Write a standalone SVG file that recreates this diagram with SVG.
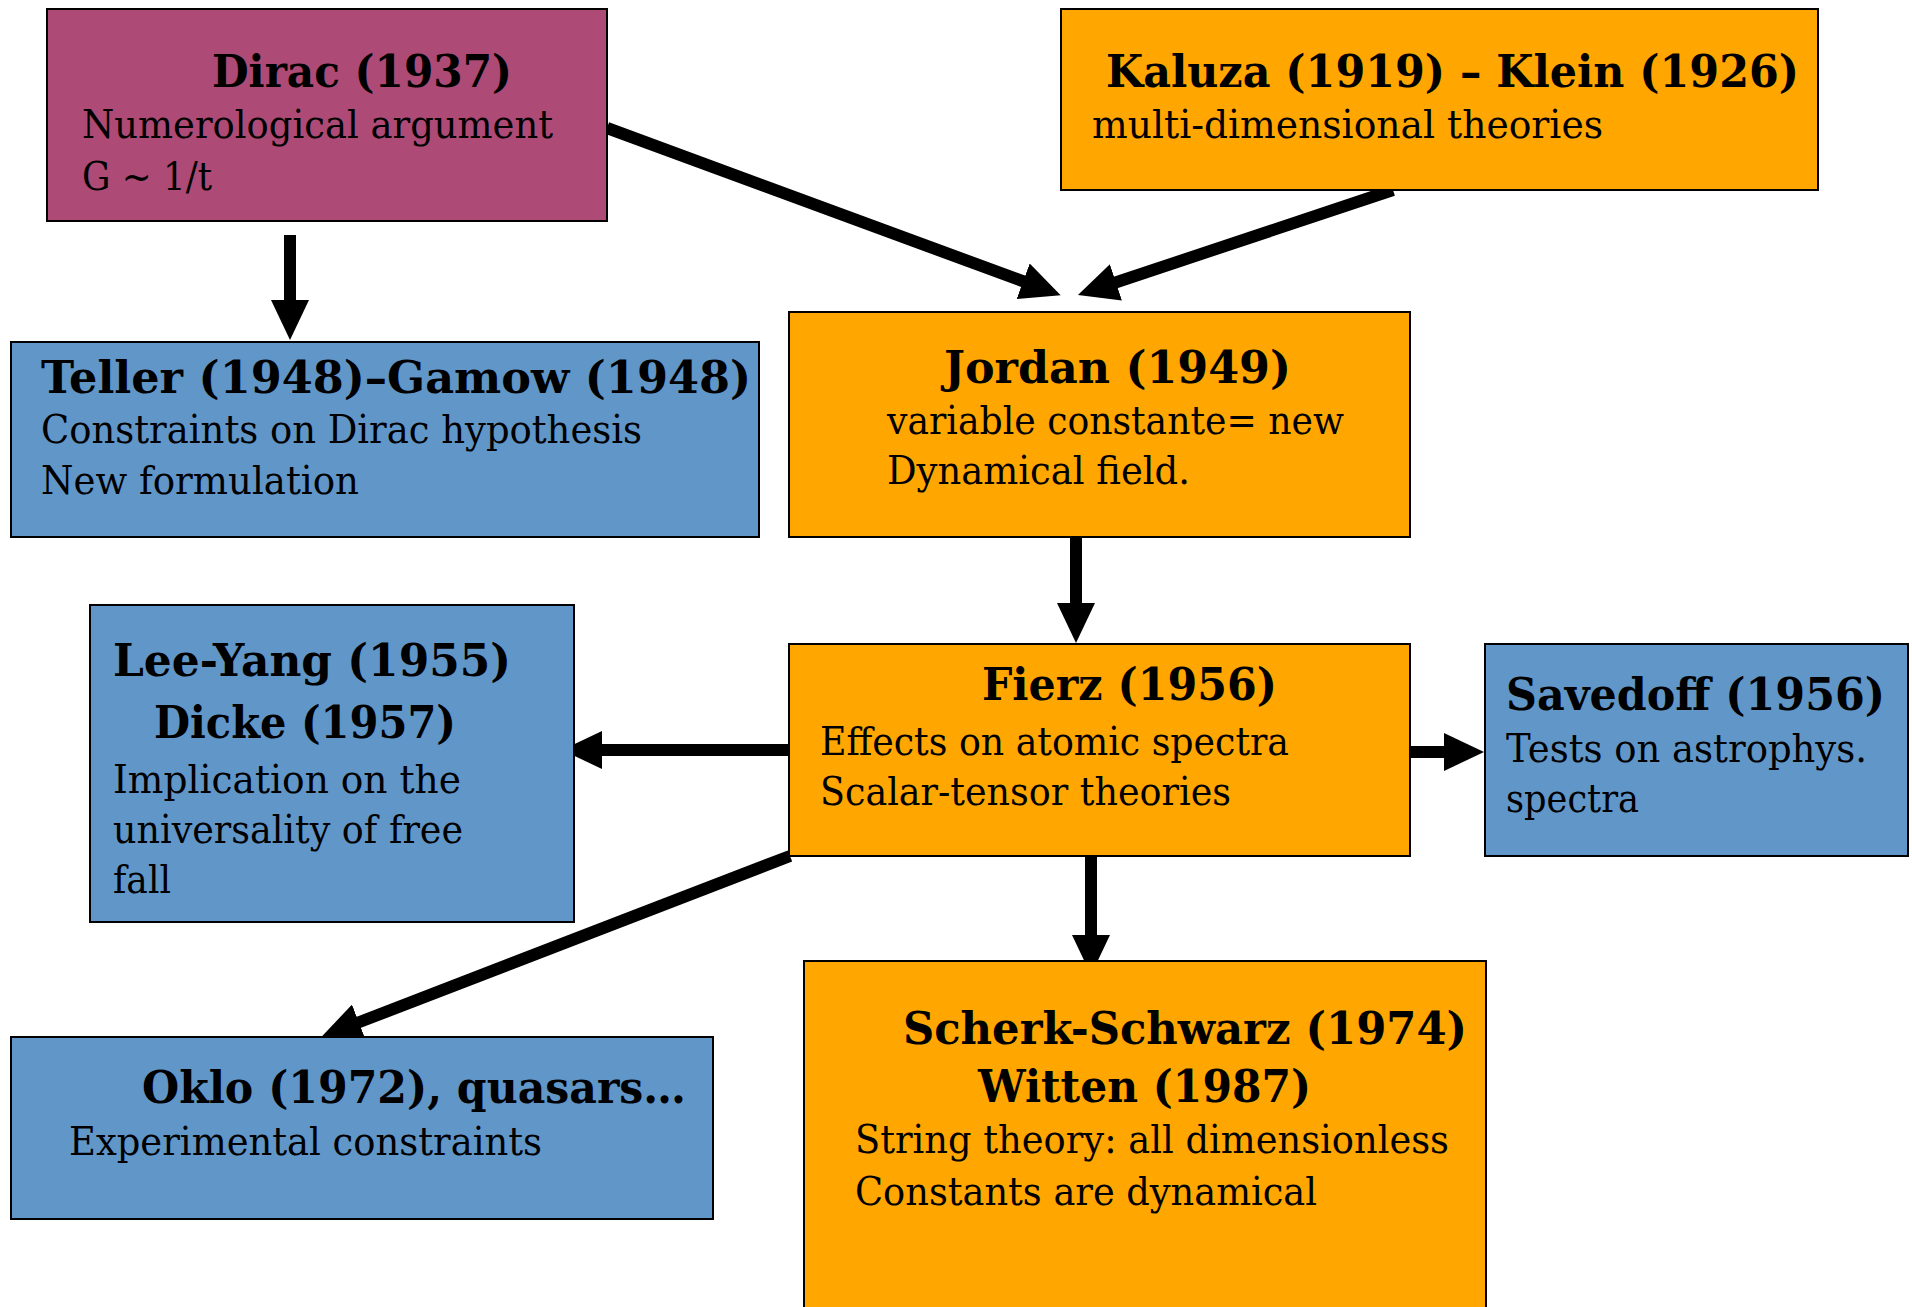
<svg xmlns="http://www.w3.org/2000/svg" width="1912" height="1307" viewBox="0 0 1912 1307">
<style>
.box{stroke:#000;stroke-width:2}
.o{fill:#FFA600}
.b{fill:#6196C9}
.m{fill:#AD4A76}
text{font-family:"DejaVu Serif","Liberation Serif",serif;fill:#000}
.t{font-weight:bold;font-size:44px}
.s{font-size:40px}
.edge{stroke:#000;stroke-width:12;fill:none;marker-end:url(#ah)}
</style>
<defs>
<marker id="ah" markerUnits="userSpaceOnUse" viewBox="0 0 40 38" refX="2" refY="19" markerWidth="40" markerHeight="38" orient="auto">
<path d="M0,0 L40,19 L0,38 z" fill="#000"/>
</marker>
</defs>
<rect width="1912" height="1307" fill="#fff"/>

<g id="connectors">
<line class="edge" x1="607" y1="128" x2="1025" y2="282"/>
<line class="edge" x1="1393" y1="190" x2="1114" y2="283"/>
<line class="edge" x1="290" y1="235" x2="290" y2="302"/>
<line class="edge" x1="1076" y1="537" x2="1076" y2="605"/>
<line class="edge" x1="789" y1="750" x2="600" y2="750"/>
<line class="edge" x1="1410" y1="752" x2="1446" y2="752"/>
<line class="edge" x1="790" y1="856" x2="357" y2="1023"/>
<line class="edge" x1="1091" y1="856" x2="1091" y2="937"/>
</g>

<g id="dirac">
<rect class="box m" x="47" y="9" width="560" height="212"/>
<text class="t" x="212" y="87" textLength="300" lengthAdjust="spacingAndGlyphs">Dirac (1937)</text>
<text class="s" x="82" y="138" textLength="471" lengthAdjust="spacingAndGlyphs">Numerological argument</text>
<text class="s" x="82" y="190" textLength="130" lengthAdjust="spacingAndGlyphs">G ~ 1/t</text>
</g>

<g id="kaluza">
<rect class="box o" x="1061" y="9" width="757" height="181"/>
<text class="t" x="1106" y="87" textLength="693" lengthAdjust="spacingAndGlyphs">Kaluza (1919) – Klein (1926)</text>
<text class="s" x="1092" y="138" textLength="511" lengthAdjust="spacingAndGlyphs">multi-dimensional theories</text>
</g>

<g id="teller">
<rect class="box b" x="11" y="342" width="748" height="195"/>
<text class="t" x="41" y="393" textLength="710" lengthAdjust="spacingAndGlyphs">Teller (1948)–Gamow (1948)</text>
<text class="s" x="41" y="443" textLength="601" lengthAdjust="spacingAndGlyphs">Constraints on Dirac hypothesis</text>
<text class="s" x="41" y="494" textLength="318" lengthAdjust="spacingAndGlyphs">New formulation</text>
</g>

<g id="jordan">
<rect class="box o" x="789" y="312" width="621" height="225"/>
<text class="t" x="944" y="383" textLength="347" lengthAdjust="spacingAndGlyphs">Jordan (1949)</text>
<text class="s" x="887" y="434" textLength="457" lengthAdjust="spacingAndGlyphs">variable constante= new</text>
<text class="s" x="887" y="484" textLength="303" lengthAdjust="spacingAndGlyphs">Dynamical field.</text>
</g>

<g id="fierz">
<rect class="box o" x="789" y="644" width="621" height="212"/>
<text class="t" x="982" y="700" textLength="295" lengthAdjust="spacingAndGlyphs">Fierz (1956)</text>
<text class="s" x="820" y="755" textLength="469" lengthAdjust="spacingAndGlyphs">Effects on atomic spectra</text>
<text class="s" x="820" y="805" textLength="411" lengthAdjust="spacingAndGlyphs">Scalar-tensor theories</text>
</g>

<g id="savedoff">
<rect class="box b" x="1485" y="644" width="423" height="212"/>
<text class="t" x="1506" y="710" textLength="379" lengthAdjust="spacingAndGlyphs">Savedoff (1956)</text>
<text class="s" x="1506" y="762" textLength="361" lengthAdjust="spacingAndGlyphs">Tests on astrophys.</text>
<text class="s" x="1506" y="812" textLength="133" lengthAdjust="spacingAndGlyphs">spectra</text>
</g>

<g id="leeyang">
<rect class="box b" x="90" y="605" width="484" height="317"/>
<text class="t" x="113" y="676" textLength="398" lengthAdjust="spacingAndGlyphs">Lee-Yang (1955)</text>
<text class="t" x="154" y="738" textLength="302" lengthAdjust="spacingAndGlyphs">Dicke (1957)</text>
<text class="s" x="113" y="793" textLength="348" lengthAdjust="spacingAndGlyphs">Implication on the</text>
<text class="s" x="113" y="843" textLength="350" lengthAdjust="spacingAndGlyphs">universality of free</text>
<text class="s" x="113" y="893" textLength="58" lengthAdjust="spacingAndGlyphs">fall</text>
</g>

<g id="oklo">
<rect class="box b" x="11" y="1037" width="702" height="182"/>
<text class="t" x="142" y="1103" textLength="544" lengthAdjust="spacingAndGlyphs">Oklo (1972), quasars…</text>
<text class="s" x="69" y="1155" textLength="473" lengthAdjust="spacingAndGlyphs">Experimental constraints</text>
</g>

<g id="scherk">
<rect class="box o" x="804" y="961" width="682" height="360"/>
<text class="t" x="903" y="1044" textLength="564" lengthAdjust="spacingAndGlyphs">Scherk-Schwarz (1974)</text>
<text class="t" x="978" y="1102" textLength="333" lengthAdjust="spacingAndGlyphs">Witten (1987)</text>
<text class="s" x="855" y="1153" textLength="594" lengthAdjust="spacingAndGlyphs">String theory: all dimensionless</text>
<text class="s" x="855" y="1205" textLength="462" lengthAdjust="spacingAndGlyphs">Constants are dynamical</text>
</g>
</svg>
